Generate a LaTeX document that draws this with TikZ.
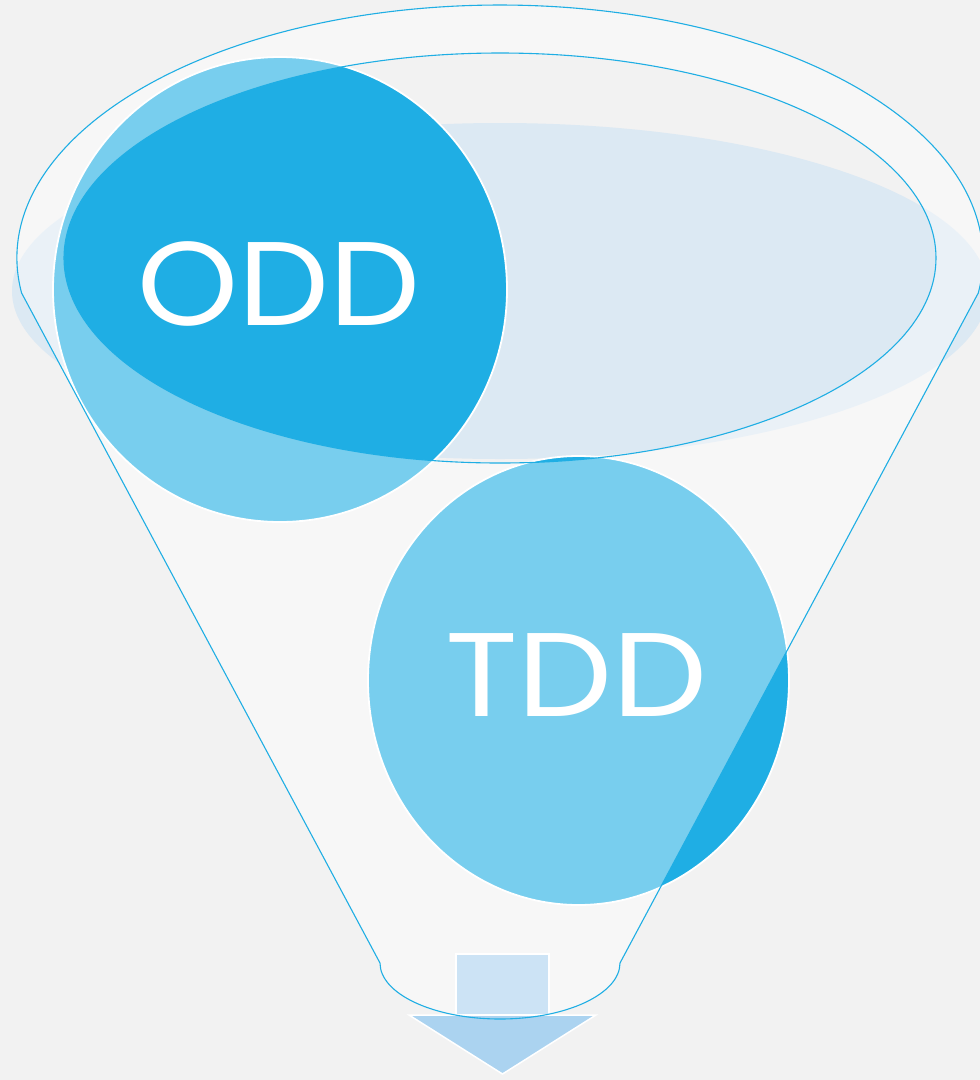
\documentclass[tikz,border=0pt]{standalone}
\usepackage{fontspec}
\setmainfont{Poppins}
\definecolor{bgc}{HTML}{F2F2F2}
\definecolor{darkblue}{HTML}{1FAEE4}
\definecolor{liquid}{HTML}{DCE9F3}
\definecolor{rectc}{HTML}{CCE3F5}
\definecolor{tric}{HTML}{ABD3F0}
\tikzset{
  edge/.style={draw=darkblue, line width=1.1pt},
  bubble/.style={fill=darkblue, draw=white, line width=1.8pt},
  label/.style={text=white, font=\fontsize{119}{119}\selectfont, inner sep=0pt},
  arrowpart/.style={draw=white, line width=1.5pt},
}
\begin{document}
\begin{tikzpicture}[x=1pt,y=-1pt]
\useasboundingbox (0,0) rectangle (980,1080);
\fill[bgc] (0,0) rectangle (980,1080);
% liquid
\fill[liquid] (500,291) ellipse [x radius=488pt, y radius=168pt];
% bubbles
\coordinate (oddc) at (280,289.5);
\coordinate (tddc) at (578.5,680.5);
\path[bubble] (oddc) ellipse [x radius=227pt, y radius=232.5pt];
\path[bubble] (tddc) ellipse [x radius=210.5pt, y radius=224.5pt];
% funnel glass overlay
\path[fill=white, fill opacity=0.4, even odd rule]
  (21.6,293) arc[start angle=187.95, end angle=-7.95, x radius=483pt, y radius=253pt]
  -- (620,963) arc[start angle=0, end angle=-180, x radius=120pt, y radius=56pt]
  -- cycle
  (500,258) ellipse [x radius=436pt, y radius=205pt];
% arrow
\path[arrowpart, fill=rectc] (456,954) rectangle (549,1015);
\path[arrowpart, fill=tric] (409,1015) -- (596,1015) -- (502.5,1074) -- cycle;
% outlines
\path[edge]
  (21.6,293) arc[start angle=187.95, end angle=-7.95, x radius=483pt, y radius=253pt]
  -- (620,963) arc[start angle=0, end angle=-180, x radius=120pt, y radius=56pt]
  -- cycle;
\path[edge] (500,258) ellipse [x radius=436pt, y radius=205pt];
% labels
\node[label, xscale=1.08] (odd) at (279,284) {ODD};
\node[label, xscale=1.13] (tdd) at (576.5,675) {TDD};
\end{tikzpicture}
\end{document}
